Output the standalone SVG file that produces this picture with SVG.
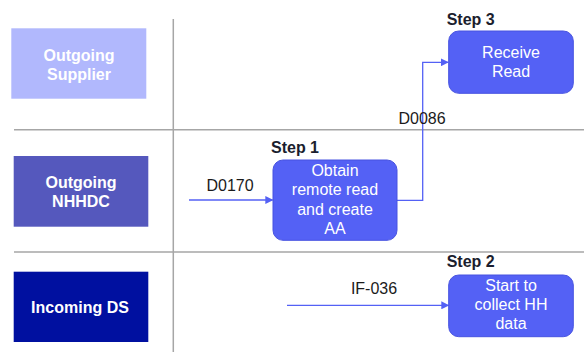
<svg xmlns="http://www.w3.org/2000/svg" width="584" height="352" viewBox="0 0 584 352">
<defs>
<style>
.lane{stroke:none}
.lt{font-family:"Liberation Sans",Arial,sans-serif;font-size:16px;font-weight:bold;fill:#ffffff;text-anchor:middle}
.box{fill:#5461f5;stroke:#4753e0;stroke-width:1}
.bt{font-family:"Liberation Sans",Arial,sans-serif;font-size:16px;fill:#ffffff;text-anchor:middle}
.st{font-family:"Liberation Sans",Arial,sans-serif;font-size:16px;font-weight:bold;fill:#1b1e2e}
.lbl{font-family:"Liberation Sans",Arial,sans-serif;font-size:16px;fill:#1b1b1b;text-anchor:middle}
.grid{stroke:#a6a6a6;stroke-width:1.5;fill:none}
.conn{stroke:#5461f5;stroke-width:1.3;fill:none;marker-end:url(#ah)}
</style>
<marker id="ah" viewBox="0 0 10 10" refX="9" refY="5" markerWidth="8" markerHeight="8" markerUnits="userSpaceOnUse" orient="auto">
<path d="M0,0 L10,5 L0,10 z" fill="#5461f5"/>
</marker>
</defs>
<rect width="584" height="352" fill="#ffffff"/>
<g id="grid">
<line class="grid" x1="173.3" y1="19" x2="173.3" y2="352"/>
<line class="grid" x1="14" y1="129.7" x2="584" y2="129.7"/>
<line class="grid" x1="14" y1="252" x2="584" y2="252"/>
</g>
<g id="lane-supplier">
<rect class="lane" x="11.3" y="28.3" width="135" height="70.4" fill="#b1b8fd"/>
<text class="lt" x="79" y="60.5">Outgoing</text>
<text class="lt" x="79" y="79.5">Supplier</text>
</g>
<g id="lane-nhhdc">
<rect class="lane" x="13.7" y="156" width="134.6" height="70.7" fill="#5558bd"/>
<text class="lt" x="81" y="187.5">Outgoing</text>
<text class="lt" x="81" y="207">NHHDC</text>
</g>
<g id="lane-ds">
<rect class="lane" x="13.7" y="271.7" width="134.6" height="70.3" fill="#0010a0"/>
<text class="lt" x="80" y="312.5">Incoming DS</text>
</g>
<g id="connectors">
<path class="conn" d="M397,200.3 H422.7 V62.3 H448"/>
<path class="conn" d="M189,200 H272.5"/>
<path class="conn" d="M287,305.3 H448.5"/>
<text class="lbl" x="422" y="124">D0086</text>
<text class="lbl" x="230" y="191">D0170</text>
<text class="lbl" x="374" y="294">IF-036</text>
</g>
<g id="step1">
<text class="st" x="271" y="153">Step 1</text>
<rect class="box" x="273" y="160" width="124" height="80.3" rx="10"/>
<text class="bt" x="335" y="175.5">Obtain</text>
<text class="bt" x="335" y="195">remote read</text>
<text class="bt" x="335" y="214.5">and create</text>
<text class="bt" x="335" y="234">AA</text>
</g>
<g id="step3">
<text class="st" x="446.7" y="25">Step 3</text>
<rect class="box" x="448.7" y="31" width="124.6" height="62.3" rx="10"/>
<text class="bt" x="511" y="58">Receive</text>
<text class="bt" x="511" y="77">Read</text>
</g>
<g id="step2">
<text class="st" x="446.7" y="266.5">Step 2</text>
<rect class="box" x="448.7" y="275" width="124.6" height="61.7" rx="10"/>
<text class="bt" x="511" y="291">Start to</text>
<text class="bt" x="511" y="310">collect HH</text>
<text class="bt" x="511" y="329">data</text>
</g>
</svg>
